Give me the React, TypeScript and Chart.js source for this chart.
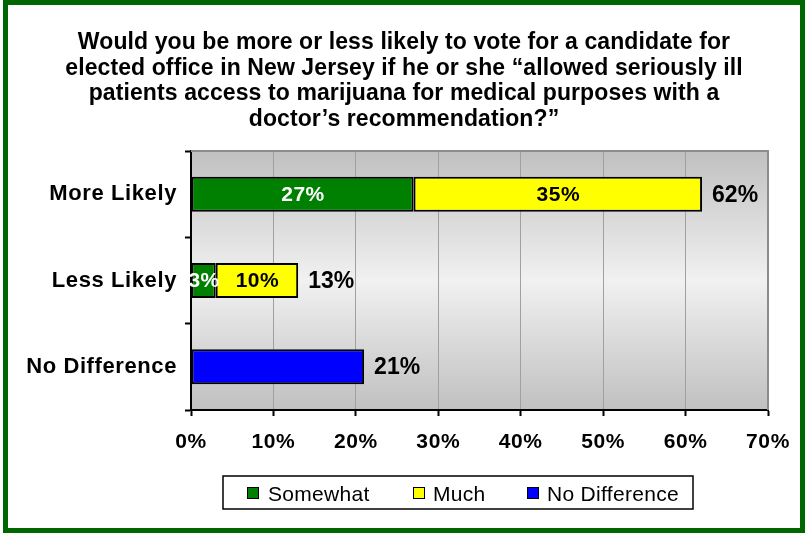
import React, { useEffect, useRef } from 'react';
import { Chart, registerables } from 'chart.js';

Chart.register(...registerables);

const titleLines = [
  'Would you be more or less likely to vote for a candidate for',
  'elected office in New Jersey if he or she \u201callowed seriously ill',
  'patients access to marijuana for medical purposes with a',
  'doctor\u2019s recommendation?\u201d',
];
const categories = ['More Likely', 'Less Likely', 'No Difference'];
const seriesNames = ['Somewhat', 'Much', 'No Difference'];
const seriesColors = ['#008000', '#ffff00', '#0000ff'];
const somewhatValues: (number | null)[] = [27, 3, null];
const muchValues: (number | null)[] = [35, 10, null];
const noDifferenceValues: (number | null)[] = [null, null, 21];
const xMin = 0;
const xMax = 70;
const xStep = 10;

const W = 806;
const H = 533;
const FONT = '"Liberation Sans", Arial, Helvetica, sans-serif';

const decorPlugin = {
  id: 'decor',
  beforeDraw(chart: any) {
    const { ctx, chartArea: a } = chart;
    ctx.save();
    ctx.fillStyle = '#ffffff';
    ctx.fillRect(0, 0, W, H);
    const g = ctx.createLinearGradient(0, a.top, 0, a.bottom);
    g.addColorStop(0, '#c0c0c0');
    g.addColorStop(0.5, '#f1f1f1');
    g.addColorStop(1, '#c0c0c0');
    ctx.fillStyle = g;
    ctx.fillRect(a.left, a.top, a.right - a.left, a.bottom - a.top);
    ctx.restore();
    (ctx as any).letterSpacing = '0.6px';
  },
  afterDatasetsDraw(chart: any) {
    const ctx = chart.ctx;
    ctx.save();
    (ctx as any).letterSpacing = '0.5px';
    ctx.textBaseline = 'middle';
    const insideColors = ['#ffffff', '#000000'];
    [0, 1].forEach((di) => {
      const meta = chart.getDatasetMeta(di);
      meta.data.forEach((el: any, i: number) => {
        const v = chart.data.datasets[di].data[i];
        if (v == null) return;
        const p = el.getProps(['x', 'y', 'base'], true);
        ctx.fillStyle = insideColors[di];
        ctx.font = `bold 21px ${FONT}`;
        ctx.textAlign = 'center';
        ctx.fillText(v + '%', (p.x + p.base) / 2 + 0.5, p.y + 1);
      });
    });
    (ctx as any).letterSpacing = '0px';
    categories.forEach((_c, i) => {
      let total = 0;
      let end: number | null = null;
      let yy = 0;
      chart.data.datasets.forEach((ds: any, di: number) => {
        const v = ds.data[i];
        if (v == null) return;
        total += v;
        const p = chart.getDatasetMeta(di).data[i].getProps(['x', 'y'], true);
        end = end === null ? p.x : Math.max(end, p.x);
        yy = p.y;
      });
      if (end === null) return;
      ctx.fillStyle = '#000000';
      ctx.font = `bold 23px ${FONT}`;
      ctx.textAlign = 'left';
      ctx.fillText(total + '%', (end as number) + 10, yy + 1);
    });
    ctx.restore();
  },
  afterDraw(chart: any) {
    const { ctx, chartArea: a } = chart;
    ctx.save();
    // plot top/right border
    ctx.strokeStyle = '#8c8c8c';
    ctx.lineWidth = 2;
    ctx.beginPath();
    ctx.moveTo(a.left, a.top);
    ctx.lineTo(a.right, a.top);
    ctx.lineTo(a.right, a.bottom);
    ctx.stroke();
    // outer frame
    ctx.strokeStyle = '#006600';
    ctx.lineWidth = 5;
    ctx.strokeRect(5.5, 2.5, 797, 528);
    // title
    ctx.fillStyle = '#000000';
    ctx.font = `bold 23px ${FONT}`;
    (ctx as any).letterSpacing = '0.1px';
    ctx.textAlign = 'center';
    ctx.textBaseline = 'alphabetic';
    titleLines.forEach((line, i) => {
      ctx.fillText(line, 404, 49 + i * 25.5);
    });
    // legend
    ctx.fillStyle = '#ffffff';
    ctx.fillRect(223, 476, 470, 33);
    ctx.strokeStyle = '#000000';
    ctx.lineWidth = 1.5;
    ctx.strokeRect(223, 476, 470, 33);
    const squareX = [247, 413, 527];
    const textX = [268, 433, 547];
    ctx.font = `21px ${FONT}`;
    ctx.textAlign = 'left';
    (ctx as any).letterSpacing = '0.3px';
    chart.data.datasets.forEach((ds: any, i: number) => {
      ctx.fillStyle = ds.backgroundColor;
      ctx.fillRect(squareX[i], 487, 12, 12);
      ctx.lineWidth = 1;
      ctx.strokeStyle = '#000000';
      ctx.strokeRect(squareX[i] + 0.5, 487.5, 11, 11);
      ctx.fillStyle = '#000000';
      ctx.fillText(ds.label, textX[i], 500.5);
    });
    ctx.restore();
  },
};

export default function App() {
  const ref = useRef<HTMLCanvasElement | null>(null);
  useEffect(() => {
    document.body.style.margin = '0';
    const canvas = ref.current;
    if (!canvas) return;
    const chart = new Chart(canvas, {
      type: 'bar',
      data: {
        labels: categories,
        datasets: [
          { label: seriesNames[0], data: somewhatValues, backgroundColor: seriesColors[0] },
          { label: seriesNames[1], data: muchValues, backgroundColor: seriesColors[1] },
          { label: seriesNames[2], data: noDifferenceValues, backgroundColor: seriesColors[2] },
        ].map((d) => ({
          ...d,
          borderColor: '#000000',
          borderWidth: 2,
          borderSkipped: false,
          barPercentage: 0.405,
          categoryPercentage: 1,
        })) as any,
      },
      options: {
        indexAxis: 'y',
        responsive: false,
        animation: false,
        devicePixelRatio: 1,
        layout: { padding: { top: 151, left: 0, right: 38, bottom: 0 } },
        plugins: {
          legend: { display: false },
          title: { display: false },
          tooltip: { enabled: false },
        },
        scales: {
          x: {
            stacked: true,
            min: xMin,
            max: xMax,
            ticks: {
              stepSize: xStep,
              color: '#000000',
              font: { family: FONT, size: 21, weight: 'bold' },
              padding: 14,
              callback: (v: any) => v + '%',
            },
            grid: {
              color: '#a0a0a0',
              lineWidth: 1,
              tickColor: '#000000',
              tickWidth: 2,
              tickLength: 6,
            },
            border: { color: '#000000', width: 2 },
            afterFit: (scale: any) => {
              scale.height = 123;
            },
          },
          y: {
            stacked: true,
            ticks: {
              color: '#000000',
              font: { family: FONT, size: 22, weight: 'bold' },
              padding: 8,
            },
            grid: {
              drawOnChartArea: false,
              offset: true,
              tickColor: '#000000',
              tickWidth: 2,
              tickLength: 6,
            },
            border: { color: '#000000', width: 2 },
            afterFit: (scale: any) => {
              scale.width = 191;
            },
          },
        },
      } as any,
      plugins: [decorPlugin],
    });
    return () => chart.destroy();
  }, []);
  return <canvas ref={ref} width={W} height={H} style={{ display: 'block' }} />;
}
